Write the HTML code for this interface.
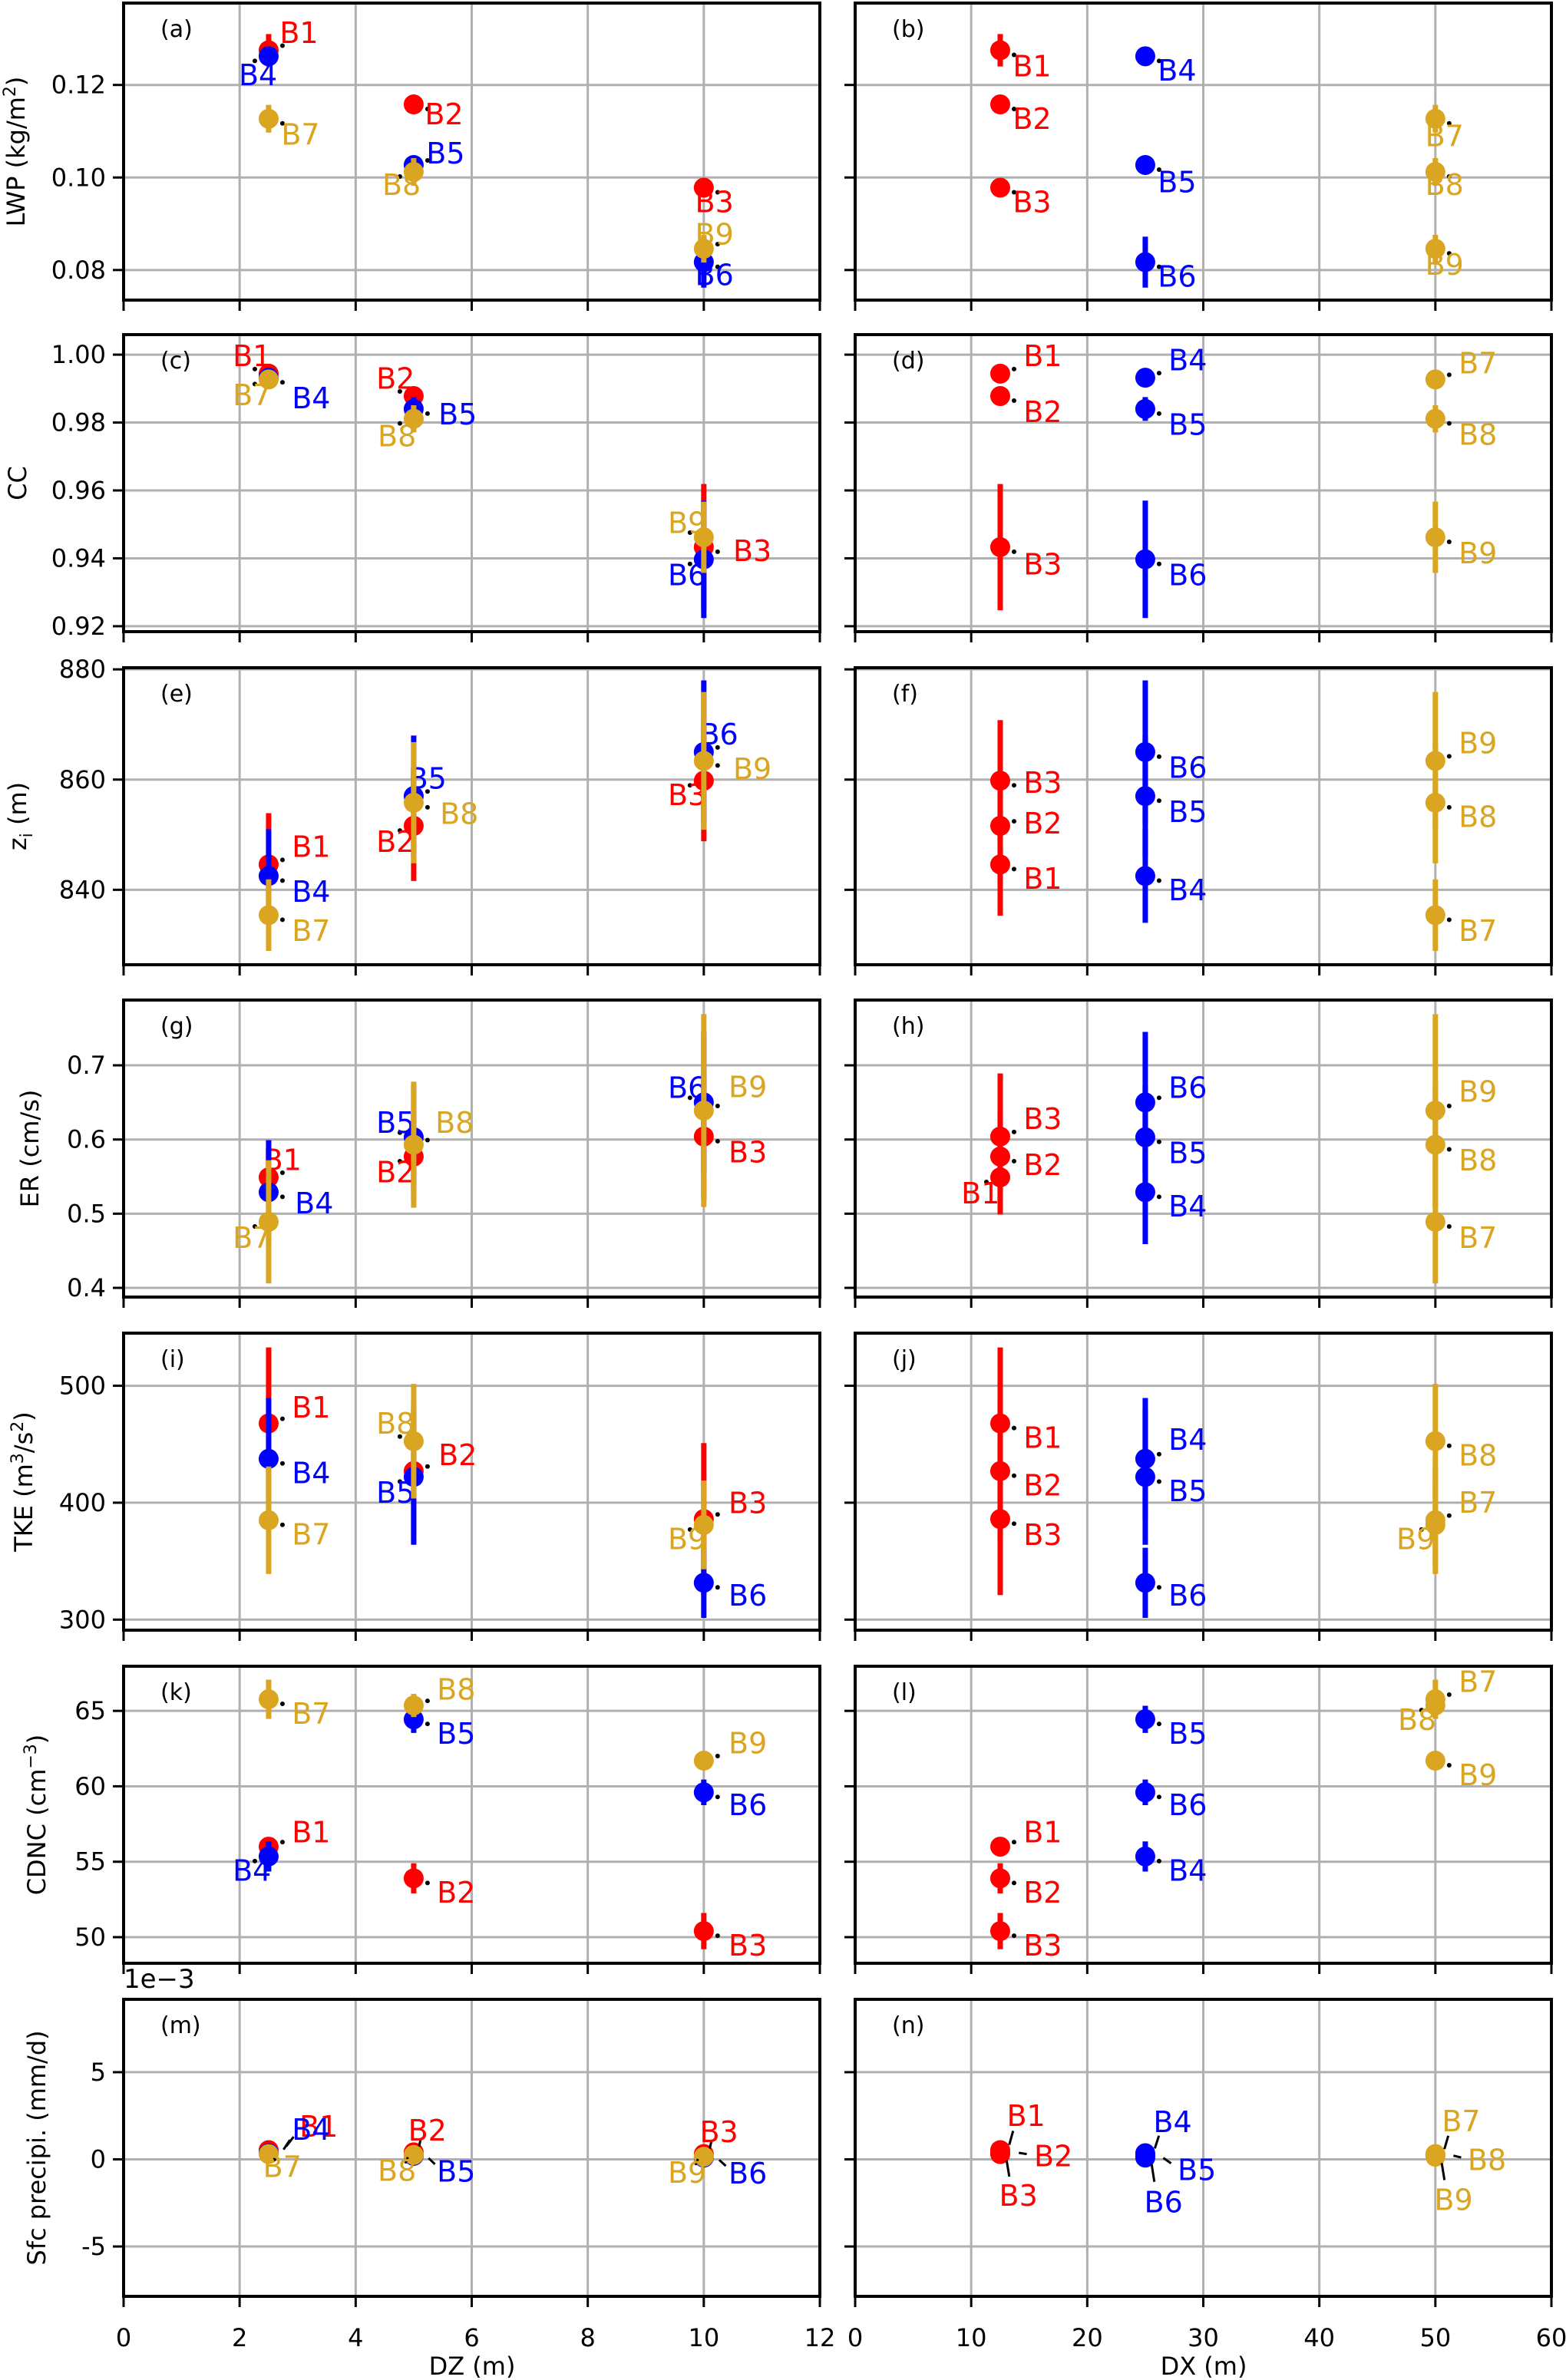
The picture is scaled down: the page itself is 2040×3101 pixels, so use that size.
<!DOCTYPE html>
<html><head><meta charset="utf-8"><style>
html,body{margin:0;padding:0;background:#fff;}
svg{display:block;font-family:"DejaVu Sans","Liberation Sans",sans-serif;}
</style></head><body>
<svg id="fig" width="2040" height="3101" viewBox="0 0 2040 3101" xmlns="http://www.w3.org/2000/svg"></svg>
<script>
// ---- data ----
const names = ["B1","B2","B3","B4","B5","B6","B7","B8","B9"];
const dzVals = [2.5,5,10,2.5,5,10,2.5,5,10];
const dxVals = [12.5,12.5,12.5,25,25,25,50,50,50];
const lwp = [0.1275,0.1158,0.0978,0.1262,0.1027,0.0817,0.1127,0.1012,0.0846];
const lwpErr = [0.0035,0.0015,0.002,0.001,0.002,0.0055,0.003,0.003,0.003];
const cc = [0.9944,0.9878,0.9433,0.9932,0.984,0.9397,0.9927,0.9811,0.9462];
const ccErr = [0.001,0.0015,0.0186,0.001,0.0035,0.0173,0.001,0.004,0.0105];
const zi = [844.6,851.6,859.8,842.5,857,865,835.4,855.8,863.4];
const ziErr = [9.3,10,11,8.5,11,13,6.5,11,12.5];
const er = [0.549,0.577,0.604,0.529,0.603,0.65,0.489,0.593,0.639];
const erErr = [0.05,0.06,0.085,0.07,0.07,0.095,0.083,0.085,0.13];
const tke = [467.8,427,386,437.5,422,331.5,385,452.6,381];
const tkeErr = [65,60,65,52,58,30,46,49,38];
const cdnc = [56.0,53.9,50.4,55.35,64.44,59.6,65.77,65.36,61.7];
const cdncErr = [0.5,1.0,1.2,1.0,0.9,0.85,1.3,0.77,0.2];
const precip = [0.53,0.4,0.3,0.35,0.2,0.1,0.3,0.25,0.15];
const precipErr = [0.1,0.1,0.1,0.1,0.1,0.1,0.1,0.1,0.1];
const colors = ["#ff0000","#ff0000","#ff0000","#0000ff","#0000ff","#0000ff","#daa520","#daa520","#daa520"];
const dzTicks = [0,2,4,6,8,10,12];
const dxTicks = [0,10,20,30,40,50,60];

// label offsets (display units, scaled by 1.977)
const S = 1.977;
const offs = {
 a:[[20,-12],[20,6],[7,9],[-7,12],[21,-8],[7,8],[21,10],[-8,8],[7,-10]],
 b:[[21,10],[21,9],[21,9],[21,9],[21,11],[21,9],[6,11],[6,8],[6,10]],
 c:[[-11,-12],[-12,-12],[32,2],[28,13],[29,3],[-11,10],[-11,10],[-11,11],[-11,-10]],
 d:[[28,-12],[28,10],[28,11],[28,-12],[28,10],[28,10],[28,-11],[28,10],[28,10]],
 e:[[28,-12],[-12,10],[-11,9],[28,10],[9,-12],[10,-12],[28,10],[30,7],[32,5]],
 f:[[28,9],[28,-2],[28,1],[28,9],[28,10],[28,10],[28,10],[28,9],[28,-12]],
 g:[[9,-12],[-12,10],[29,10],[30,7],[-12,-10],[-11,-10],[-11,10],[27,-15],[29,-16]],
 h:[[-13,10],[28,5],[28,-12],[28,9],[28,10],[28,-10],[28,10],[28,10],[28,-13]],
 i:[[28,-11],[29,-11],[29,-11],[28,9],[-12,10],[29,8],[28,9],[-12,-12],[-11,9]],
 j:[[28,9],[28,9],[28,10],[28,-13],[28,9],[28,8],[28,-12],[28,9],[-13,9]],
 k:[[28,-10],[28,9],[29,9],[-11,9],[28,9],[29,8],[28,9],[28,-11],[29,-12]],
 l:[[28,-10],[28,9],[28,9],[28,9],[28,9],[28,8],[28,-12],[-12,9],[28,9]],
 m:[[33,-16],[9,-15],[10,-15],[28,-16],[28,10],[29,10],[9,8],[-11,10],[-11,10]],
 n:[[17,-23],[35,2],[12,27],[18,-21],[34,9],[12,29],[17,-22],[34,3],[12,28]]
};

const panelTops = [4,436,870,1303,1737,2171,2605];
const PH = 387;
const LX = [161,1114], PW = 907;
const rows = [
 {v:lwp,e:lwpErr,lo:0.0735,hi:0.1377,ticks:[0.08,0.10,0.12],fmt:t=>t.toFixed(2),title:'LWP (kg/m<tspan dy="-12" font-size="22">2</tspan><tspan dy="12">)</tspan>',tx:22,ids:["a","b"]},
 {v:cc,e:ccErr,lo:0.9184,hi:1.0059,ticks:[0.92,0.94,0.96,0.98,1.00],fmt:t=>t.toFixed(2),title:'CC',tx:24,ids:["c","d"]},
 {v:zi,e:ziErr,lo:826.4,hi:880.3,ticks:[840,860,880],fmt:t=>String(t),title:'z<tspan dy="8" font-size="22">i</tspan><tspan dy="-8"> (m)</tspan>',tx:24,ids:["e","f"]},
 {v:er,e:erErr,lo:0.3876,hi:0.788,ticks:[0.4,0.5,0.6,0.7],fmt:t=>t.toFixed(1),title:'ER (cm/s)',tx:40,ids:["g","h"]},
 {v:tke,e:tkeErr,lo:291,hi:545,ticks:[300,400,500],fmt:t=>String(t),title:'TKE (m<tspan dy="-12" font-size="22">3</tspan><tspan dy="12">/s</tspan><tspan dy="-12" font-size="22">2</tspan><tspan dy="12">)</tspan>',tx:32,ids:["i","j"]},
 {v:cdnc,e:cdncErr,lo:48.27,hi:67.96,ticks:[50,55,60,65],fmt:t=>String(t),title:'CDNC (cm<tspan dy="-12" font-size="22">−3</tspan><tspan dy="12">)</tspan>',tx:49,ids:["k","l"]},
 {v:precip,e:precipErr,lo:-7.86,hi:9.18,ticks:[-5,0,5],fmt:t=>String(t),title:'Sfc precipi. (mm/d)',tx:49,ids:["m","n"]}
];

const svg = document.getElementById('fig');
const NS = "http://www.w3.org/2000/svg";
function mk(tag, attrs, parent){
  const el = document.createElementNS(NS, tag);
  for (const k in attrs) el.setAttribute(k, attrs[k]);
  (parent||svg).appendChild(el);
  return el;
}

rows.forEach((row, ri) => {
  const top = panelTops[ri];
  const yS = v => top + PH - (v - row.lo) / (row.hi - row.lo) * PH;
  [0,1].forEach(ci => {
    const left = LX[ci];
    const xmax = ci===0 ? 12 : 60;
    const xS = v => left + v / xmax * PW;
    const xv = ci===0 ? dzVals : dxVals;
    const xt = ci===0 ? dzTicks : dxTicks;
    const pid = row.ids[ci];
    const g = mk('g', {});
    
    
    // grid
    xt.forEach(t => {
      const l = mk('line', {x1:xS(t), x2:xS(t), y1:top, y2:top+PH, stroke:'#b0b0b0', 'stroke-width':3}, g);
      
      
      const tk = mk('line', {x1:xS(t), x2:xS(t), y1:top+PH, y2:top+PH+14, stroke:'#000', 'stroke-width':3}, g);
      
      
      if (ri === rows.length-1) {
        const tl = mk('text', {x:xS(t), y:3057, 'font-size':32, 'text-anchor':'middle'}, g);
        tl.textContent = String(t);
        
        
      }
    });
    row.ticks.forEach(t => {
      const l = mk('line', {x1:left, x2:left+PW, y1:yS(t), y2:yS(t), stroke:'#b0b0b0', 'stroke-width':3}, g);
      
      
      const tk = mk('line', {x1:left-14, x2:left, y1:yS(t), y2:yS(t), stroke:'#000', 'stroke-width':3}, g);
      
      
      if (ci === 0) {
        const tl = mk('text', {x:138, y:yS(t)+11, 'font-size':32, 'text-anchor':'end'}, g);
        tl.textContent = row.fmt(t);
        
        
      }
    });
    // spines
    const fr = mk('rect', {x:left, y:top, width:PW, height:PH, fill:'none', stroke:'#000', 'stroke-width':4}, g);
    
    
    // panel label
    const pl = mk('text', {x:left+48, y:top+44, 'font-size':30}, g);
    pl.textContent = '(' + pid + ')';
    
    
    // points
    const off = offs[pid];
    for (let i = 0; i < names.length; i++) {
      const cx = xS(xv[i]), cy = yS(row.v[i]);
      const eb = mk('line', {x1:cx, x2:cx, y1:yS(row.v[i]+row.e[i]), y2:yS(row.v[i]-row.e[i]), stroke:colors[i], 'stroke-width':7}, g);
      
      
      const c = mk('circle', {cx:cx, cy:cy, r:13, fill:colors[i]}, g);
      
      
      const dx = off[i][0]*S, dy = off[i][1]*S;
      if (pid === 'n' || pid === 'm') {
        const ln = mk('line', {x1:cx+dx*0.35, y1:cy+dy*0.15, x2:cx+dx*0.5, y2:cy+dy*0.55, stroke:'#000', 'stroke-width':3}, g);
        
        
      } else {
        const d = mk('circle', {cx:cx+Math.sign(dx)*18, cy:cy+Math.sign(dy)*6, r:3, fill:'#000'}, g);
        
        
      }
      const lb = mk('text', {x:cx+dx, y:cy+dy+14, 'font-size':38, fill:colors[i], 'text-anchor':'middle'}, g);
      lb.textContent = names[i];
      
      
    }
  });
  const yt = mk('text', {x:0, y:0, 'font-size':32, 'text-anchor':'middle', transform:'translate(' + (row.tx+10) + ',' + (top+PH/2) + ') rotate(-90)'});
  yt.innerHTML = row.title;
  
  
});
const ex = mk('text', {x:161, y:2590, 'font-size':34});
ex.textContent = '1e−3';


const xl1 = mk('text', {x:615, y:3094, 'font-size':32, 'text-anchor':'middle'});
xl1.textContent = 'DZ (m)';


const xl2 = mk('text', {x:1568, y:3094, 'font-size':32, 'text-anchor':'middle'});
xl2.textContent = 'DX (m)';


</script>
</body></html>
